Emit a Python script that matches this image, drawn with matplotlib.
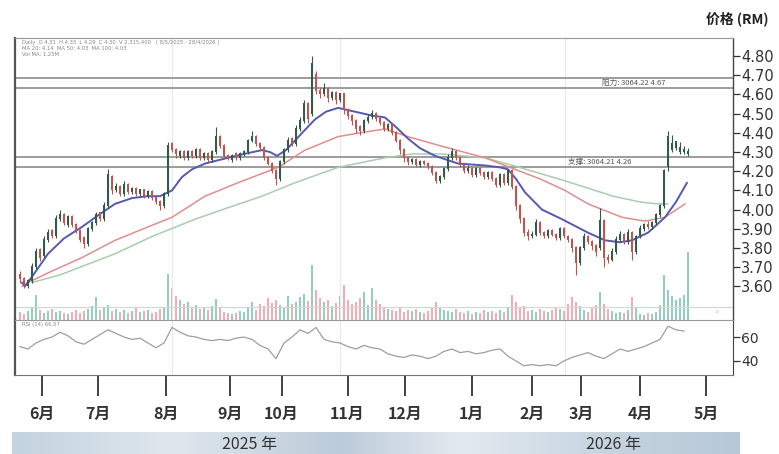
import matplotlib.pyplot as plt
import numpy as np
from matplotlib.colors import LinearSegmentedColormap

plt.rcParams['font.family'] = ['Noto Sans CJK SC', 'DejaVu Sans']

# 日K线 (开, 高, 低, 收)
opens = [3.66, 3.64, 3.60, 3.63, 3.70, 3.79, 3.76, 3.84, 3.89, 3.86, 3.95, 3.97,
         3.92, 3.96, 3.92, 3.89, 3.85, 3.82, 3.90, 3.93, 3.98, 3.95, 4.02, 4.17,
         4.10, 4.12, 4.08, 4.13, 4.09, 4.11, 4.08, 4.10, 4.07, 4.09, 4.06, 4.04,
         4.02, 4.08, 4.34, 4.31, 4.28, 4.30, 4.27, 4.30, 4.28, 4.31, 4.27, 4.29,
         4.26, 4.30, 4.38, 4.33, 4.28, 4.26, 4.29, 4.27, 4.29, 4.30, 4.36, 4.38,
         4.34, 4.32, 4.27, 4.24, 4.20, 4.16, 4.25, 4.31, 4.37, 4.34, 4.42, 4.46,
         4.55, 4.50, 4.70, 4.62, 4.60, 4.63, 4.58, 4.61, 4.57, 4.60, 4.52, 4.49,
         4.46, 4.43, 4.41, 4.46, 4.48, 4.50, 4.47, 4.45, 4.42, 4.44, 4.40, 4.36,
         4.31, 4.27, 4.25, 4.26, 4.23, 4.25, 4.24, 4.22, 4.19, 4.15, 4.17, 4.21,
         4.27, 4.30, 4.27, 4.23, 4.20, 4.21, 4.18, 4.21, 4.19, 4.17, 4.19, 4.16,
         4.13, 4.18, 4.14, 4.20, 4.12, 4.02, 3.95, 3.88, 3.86, 3.87, 3.93, 3.88,
         3.86, 3.89, 3.87, 3.85, 3.90, 3.86, 3.84, 3.80, 3.72, 3.80, 3.86, 3.83,
         3.81, 3.80, 3.94, 3.75, 3.74, 3.78, 3.84, 3.87, 3.83, 3.88, 3.78, 3.86,
         3.90, 3.92, 3.91, 3.93, 3.97, 4.02, 4.22, 4.31, 4.32, 4.30, 4.30, 4.29]
highs = [3.68, 3.65, 3.64, 3.72, 3.80, 3.80, 3.86, 3.90, 3.90, 3.97, 4.00, 3.98,
         3.97, 3.97, 3.93, 3.90, 3.86, 3.91, 3.94, 3.99, 3.99, 4.04, 4.21, 4.18,
         4.14, 4.13, 4.15, 4.14, 4.12, 4.12, 4.11, 4.11, 4.10, 4.10, 4.07, 4.05,
         4.09, 4.35, 4.35, 4.32, 4.31, 4.31, 4.31, 4.31, 4.32, 4.32, 4.30, 4.30,
         4.31, 4.43, 4.39, 4.34, 4.29, 4.29, 4.30, 4.30, 4.31, 4.37, 4.41, 4.39,
         4.35, 4.33, 4.28, 4.25, 4.21, 4.26, 4.32, 4.38, 4.38, 4.44, 4.48, 4.57,
         4.56, 4.80, 4.72, 4.64, 4.66, 4.64, 4.62, 4.62, 4.61, 4.61, 4.53, 4.50,
         4.47, 4.44, 4.47, 4.50, 4.52, 4.51, 4.48, 4.46, 4.45, 4.45, 4.41, 4.37,
         4.32, 4.28, 4.27, 4.27, 4.26, 4.26, 4.25, 4.23, 4.20, 4.18, 4.22, 4.29,
         4.32, 4.31, 4.28, 4.24, 4.23, 4.22, 4.22, 4.22, 4.20, 4.20, 4.20, 4.17,
         4.19, 4.19, 4.21, 4.21, 4.13, 4.03, 3.96, 3.90, 3.89, 3.95, 3.94, 3.89,
         3.90, 3.90, 3.88, 3.91, 3.91, 3.87, 3.85, 3.81, 3.81, 3.88, 3.87, 3.84,
         3.82, 4.01, 3.95, 3.77, 3.80, 3.86, 3.89, 3.88, 3.90, 3.89, 3.87, 3.92,
         3.93, 3.94, 3.94, 3.98, 4.03, 4.21, 4.41, 4.39, 4.36, 4.35, 4.33, 4.32]
lows = [3.62, 3.59, 3.59, 3.62, 3.69, 3.73, 3.75, 3.83, 3.85, 3.85, 3.94, 3.92,
        3.91, 3.91, 3.88, 3.83, 3.80, 3.81, 3.89, 3.92, 3.94, 3.94, 4.01, 4.08,
        4.09, 4.07, 4.07, 4.08, 4.08, 4.07, 4.07, 4.06, 4.06, 4.05, 4.03, 4.00,
        4.01, 4.07, 4.30, 4.27, 4.27, 4.26, 4.26, 4.27, 4.27, 4.26, 4.26, 4.25,
        4.25, 4.29, 4.32, 4.27, 4.26, 4.25, 4.26, 4.26, 4.28, 4.29, 4.35, 4.33,
        4.31, 4.26, 4.23, 4.19, 4.13, 4.15, 4.24, 4.30, 4.33, 4.33, 4.41, 4.45,
        4.45, 4.49, 4.60, 4.58, 4.59, 4.56, 4.57, 4.55, 4.56, 4.50, 4.47, 4.44,
        4.40, 4.39, 4.40, 4.45, 4.47, 4.46, 4.44, 4.41, 4.41, 4.39, 4.35, 4.29,
        4.25, 4.23, 4.24, 4.22, 4.22, 4.23, 4.21, 4.18, 4.14, 4.14, 4.16, 4.20,
        4.26, 4.26, 4.22, 4.19, 4.19, 4.17, 4.17, 4.18, 4.16, 4.16, 4.15, 4.12,
        4.12, 4.13, 4.13, 4.11, 4.00, 3.93, 3.86, 3.84, 3.85, 3.86, 3.87, 3.85,
        3.85, 3.86, 3.84, 3.84, 3.85, 3.83, 3.78, 3.66, 3.71, 3.79, 3.82, 3.79,
        3.76, 3.79, 3.70, 3.72, 3.73, 3.77, 3.83, 3.82, 3.82, 3.74, 3.77, 3.85,
        3.89, 3.90, 3.90, 3.92, 3.96, 4.01, 4.20, 4.30, 4.31, 4.29, 4.29, 4.28]
closes = [3.64, 3.61, 3.63, 3.70, 3.78, 3.75, 3.84, 3.88, 3.86, 3.95, 3.97, 3.93,
          3.96, 3.92, 3.89, 3.84, 3.82, 3.90, 3.93, 3.97, 3.95, 4.02, 4.18, 4.10,
          4.12, 4.08, 4.13, 4.09, 4.11, 4.08, 4.10, 4.07, 4.09, 4.06, 4.04, 4.02,
          4.08, 4.33, 4.31, 4.29, 4.30, 4.27, 4.30, 4.28, 4.31, 4.27, 4.29, 4.26,
          4.30, 4.38, 4.33, 4.28, 4.27, 4.28, 4.27, 4.29, 4.30, 4.36, 4.38, 4.34,
          4.32, 4.27, 4.24, 4.20, 4.16, 4.25, 4.31, 4.36, 4.34, 4.42, 4.46, 4.55,
          4.47, 4.76, 4.62, 4.60, 4.63, 4.58, 4.61, 4.57, 4.60, 4.52, 4.49, 4.46,
          4.42, 4.41, 4.46, 4.48, 4.50, 4.47, 4.45, 4.42, 4.44, 4.40, 4.36, 4.31,
          4.27, 4.25, 4.26, 4.23, 4.25, 4.24, 4.22, 4.19, 4.15, 4.17, 4.21, 4.27,
          4.30, 4.27, 4.23, 4.20, 4.21, 4.18, 4.21, 4.19, 4.17, 4.19, 4.16, 4.13,
          4.18, 4.14, 4.20, 4.12, 4.02, 3.95, 3.88, 3.86, 3.87, 3.93, 3.88, 3.86,
          3.89, 3.87, 3.85, 3.90, 3.86, 3.84, 3.80, 3.72, 3.80, 3.86, 3.83, 3.81,
          3.78, 3.94, 3.75, 3.74, 3.78, 3.84, 3.87, 3.83, 3.88, 3.78, 3.86, 3.90,
          3.92, 3.91, 3.93, 3.97, 4.02, 4.20, 4.38, 4.34, 4.35, 4.32, 4.31, 4.30]
volumes = [0.8, 0.6, 0.9, 1.2, 2.5, 1.0, 0.7, 0.9, 1.1, 0.8,
           0.9, 0.7, 0.6, 0.8, 1.0, 0.7, 0.9, 1.1, 1.4, 2.3,
           1.0, 1.2, 1.5, 0.9, 1.1, 0.8, 1.0, 0.7, 0.9, 1.2,
           0.8, 0.9, 1.0, 0.7, 0.8, 1.1, 1.3, 4.6, 3.2, 2.4,
           2.0, 1.6, 1.8, 1.2, 1.5, 1.1, 1.3, 1.0, 1.4, 2.1,
           1.2, 0.8, 0.7, 0.6, 0.7, 0.9, 0.8, 1.2, 1.8, 1.0,
           1.6, 1.4, 2.2, 1.7, 2.0, 1.5, 1.3, 2.4, 1.6, 1.8,
           2.3, 2.6, 1.9, 5.5, 3.0, 2.2, 1.8, 2.0, 1.4, 1.7,
           2.4, 3.5, 2.0, 1.6, 1.8, 2.2, 2.8, 1.5, 3.2, 2.0,
           1.6, 1.3, 1.1, 1.0, 0.9, 1.2, 0.8, 1.0, 0.9, 1.1,
           0.8, 0.7, 0.9, 1.2, 1.8, 1.3, 1.0, 0.9, 0.8, 1.1,
           0.8, 0.7, 0.9, 0.6, 0.8, 0.7, 1.0, 0.8, 0.9, 0.7,
           1.0, 0.8, 1.3, 2.5, 1.8, 1.2, 1.4, 0.9, 1.0, 0.8,
           1.1, 0.9, 0.8, 1.0, 1.3, 1.1, 0.9, 1.6, 2.3, 1.8,
           1.4, 1.0, 0.8, 1.2, 1.5, 2.8, 1.6, 1.1, 0.9, 0.7,
           0.8, 0.7, 1.0, 2.3, 1.2, 0.6, 0.5, 0.7, 0.6, 0.8,
           1.5, 4.5, 3.0, 2.4, 2.0, 2.2, 2.5, 6.8]

# 均线 (交易日序号, 价格)
ma_s_x = [0.5, 1.25, 4, 7, 11, 15.5, 19.5, 23.75, 28, 32, 35, 38, 40.5, 43, 46.25,
          52, 56, 60.5, 62.5, 64.25, 66.5, 68.75, 71, 73.75, 76.5, 79.5, 83.75, 88,
          91.25, 94, 97, 100, 103.75, 109.5, 116.25, 120, 122, 124, 126.25, 130.5,
          135.5, 142, 146.25, 150, 153, 157, 161.25, 164, 166.75]
ma_s = [3.62, 3.60, 3.68, 3.77, 3.85, 3.91, 3.97, 4.03, 4.06, 4.07, 4.07, 4.10, 4.17,
        4.21, 4.24, 4.27, 4.29, 4.31, 4.30, 4.28, 4.31, 4.36, 4.41, 4.47, 4.51, 4.53,
        4.51, 4.49, 4.48, 4.43, 4.37, 4.32, 4.28, 4.24, 4.23, 4.22, 4.21, 4.16, 4.09,
        4.00, 3.95, 3.88, 3.84, 3.83, 3.84, 3.88, 3.96, 4.04, 4.14]
ma_m_x = [0.5, 2, 8, 15.5, 23.75, 32, 38, 46.25, 54.5, 64.5, 71.25, 79.5, 85, 91.25,
          97, 105.5, 116.25, 123.75, 130, 136.25, 142, 150.5, 156.25, 161.25, 166.25]
ma_m = [3.60, 3.62, 3.68, 3.75, 3.84, 3.91, 3.96, 4.07, 4.14, 4.22, 4.31, 4.38, 4.40,
        4.42, 4.38, 4.33, 4.27, 4.21, 4.16, 4.10, 4.03, 3.96, 3.94, 3.96, 4.03]
ma_l_x = [3, 10, 23.75, 33, 43.75, 52, 60.5, 68.75, 79.5, 91.25, 98, 105.5, 116.25,
          123.25, 136.25, 148.25, 155, 159.25, 162]
ma_l = [3.62, 3.66, 3.77, 3.86, 3.95, 4.01, 4.07, 4.14, 4.22, 4.27, 4.29, 4.29, 4.27,
        4.23, 4.15, 4.07, 4.04, 4.03, 4.03]

rsi = [52, 50, 55, 58, 60, 64, 61, 56, 54, 58, 62, 66, 63, 60, 58, 59, 55, 51, 55, 68,
       64, 61, 60, 58, 57, 58, 57, 59, 60, 58, 53, 50, 42, 55, 60, 66, 63, 68, 58, 56,
       55, 52, 50, 53, 51, 50, 46, 44, 43, 45, 44, 42, 44, 48, 50, 47, 48, 46, 47, 49,
       50, 44, 40, 36, 37, 36, 37, 36, 40, 43, 45, 47, 44, 42, 46, 50, 48, 50, 52, 55,
       58, 69, 66, 65]
rsi_x = np.arange(0, 168, 2)

price_ticks = [3.60, 3.70, 3.80, 3.90, 4.00, 4.10, 4.20, 4.30, 4.40, 4.50, 4.60, 4.70, 4.80]
month_labels = ['6月', '7月', '8月', '9月', '10月', '11月', '12月', '1月', '2月', '3月', '4月', '5月']
month_pos = [5.6, 19.6, 36.6, 52.6, 65.4, 81.9, 96.25, 112.9, 128.1, 140.25, 155.0, 171.5]
resist = [4.685, 4.633]
support = [4.274, 4.222]

W, H = 779, 454


def box(l, t, r, b):
    return [l / W, 1 - b / H, (r - l) / W, (b - t) / H]


fig = plt.figure(figsize=(W / 100, H / 100), dpi=100)
ax = fig.add_axes(box(15, 38, 733, 320))
ax_vol = ax.twinx()
ax_rsi = fig.add_axes(box(15, 320, 733, 375), sharex=ax)
ax.set_zorder(ax_vol.get_zorder() + 1)
ax.patch.set_visible(False)

o = np.array(opens)
c = np.array(closes)
x = np.arange(len(c))
up = c >= o
col = np.where(up, '#2f5b48', '#c2534f')

# 成交量
vcol = np.where(up, '#93cfc1', '#f0adb3')
ax_vol.bar(x, volumes, width=0.7, color=vcol, lw=0)
ax_vol.axhline(1.3, color='#f3c9cc', lw=0.8)
ax_vol.set_ylim(0, 28.2)
ax_vol.set_yticks([])
for s in ax_vol.spines.values():
    s.set_visible(False)

# 网格
for gx in [38, 80, 136.25]:
    ax.axvline(gx, color='#e9e9e9', lw=0.8, zorder=0)
    ax_rsi.axvline(gx, color='#e9e9e9', lw=0.8, zorder=0)

# 阻力 / 支撑
for lv in resist + support:
    ax.axhline(lv, color='#9c9c9c', lw=1.4, zorder=1)
ax.text(153.5, 4.659, '阻力: 3064.22 4.67', fontsize=5.5, color='#555',
        ha='center', va='center')
ax.text(145, 4.248, '支撑: 3064.21 4.26', fontsize=5.5, color='#555',
        ha='center', va='center')

# 均线
kw = dict(solid_joinstyle='round', solid_capstyle='round', zorder=2)
ax.plot(ma_l_x, ma_l, color='#a8cfad', lw=1.1, **kw)
ax.plot(ma_m_x, ma_m, color='#e38d8d', lw=1.1, **kw)
ax.plot(ma_s_x, ma_s, color='#5659b0', lw=1.4, **kw)

# K线
ax.vlines(x, lows, highs, colors=col, lw=0.8, zorder=3)
ax.bar(x, np.abs(c - o) + 0.005, bottom=np.minimum(o, c), width=0.55,
       color=col, lw=0, zorder=3)

ax.set_xlim(-1.25, 178.25)
ax.set_ylim(3.425, 4.894)
ax.yaxis.tick_right()
ax.set_yticks(price_ticks)
ax.set_yticklabels([f'{t:.2f}' for t in price_ticks], fontsize=10.5,
                   color='#222', family='DejaVu Sans')
ax.tick_params(axis='y', direction='out', length=5, width=0.9, pad=1, colors='#333')
ax.tick_params(axis='x', bottom=False, labelbottom=False)
for s in ['top', 'bottom']:
    ax.spines[s].set_color('#999')
    ax.spines[s].set_linewidth(0.8)
ax.spines['left'].set_color('#555')
ax.spines['left'].set_linewidth(1.6)
ax.spines['right'].set_color('#444')
ax.spines['right'].set_linewidth(1.0)

ax.text(0.5, 4.885, 'Daily  O 4.31  H 4.33  L 4.29  C 4.30  V 2,315,400   ( 8/5/2025 - 28/4/2026 )',
        fontsize=3.8, color='#888', va='top', family='DejaVu Sans')
ax.text(0.5, 4.853, 'MA 20: 4.14  MA 50: 4.03  MA 100: 4.03',
        fontsize=3.8, color='#888', va='top', family='DejaVu Sans')
ax.text(0.5, 4.821, 'Vol MA: 1.25M',
        fontsize=3.8, color='#888', va='top', family='DejaVu Sans')
ax.text(174, 3.44, '◦', fontsize=6, color='#bbb', ha='center', va='bottom')

# RSI
ax_rsi.plot(rsi_x, rsi, color='#9e9e9e', lw=0.9)
ax_rsi.set_ylim(28.3, 74.2)
ax_rsi.yaxis.tick_right()
ax_rsi.set_yticks([40, 60])
ax_rsi.set_yticklabels(['40', '60'], fontsize=10, color='#222', family='DejaVu Sans')
ax_rsi.tick_params(axis='y', direction='out', length=5, width=0.9, pad=1, colors='#333')
ax_rsi.text(0.5, 72.5, 'RSI (14) 66.57', fontsize=3.8, color='#888', va='top',
            family='DejaVu Sans')
ax_rsi.set_xticks(month_pos)
ax_rsi.set_xticklabels(month_labels, fontsize=11.5, fontweight='bold', color='#222')
ax_rsi.tick_params(axis='x', direction='out', length=15, width=1.3, pad=7, colors='#333')
ax_rsi.spines['top'].set_visible(False)
ax_rsi.spines['bottom'].set_color('#777')
ax_rsi.spines['left'].set_color('#555')
ax_rsi.spines['left'].set_linewidth(1.6)
ax_rsi.spines['right'].set_color('#444')

# 年份条
ax_year = fig.add_axes(box(12, 432, 740, 454))
cmap = LinearSegmentedColormap.from_list('band', [
    (0.0, '#c4d3e0'), (0.22, '#dfe7ee'), (0.45, '#bccbd9'),
    (0.62, '#e3eaf0'), (0.82, '#c6d4e0'), (1.0, '#b7c8d6')])
ax_year.imshow(np.linspace(0, 1, 256)[None, :], aspect='auto', cmap=cmap,
               extent=[0, 1, 0, 1])
ax_year.set_axis_off()
ax_year.text((250 - 12) / 728, 0.45, '2025 年', fontsize=11.5, color='#333',
             ha='center', va='center')
ax_year.text((613 - 12) / 728, 0.45, '2026 年', fontsize=11.5, color='#333',
             ha='center', va='center')

fig.text(768 / W, 1 - 19 / H, '价格 (RM)', fontsize=10, fontweight='bold',
         color='#222', ha='right', va='center')

fig.savefig('out.png', dpi=100)
